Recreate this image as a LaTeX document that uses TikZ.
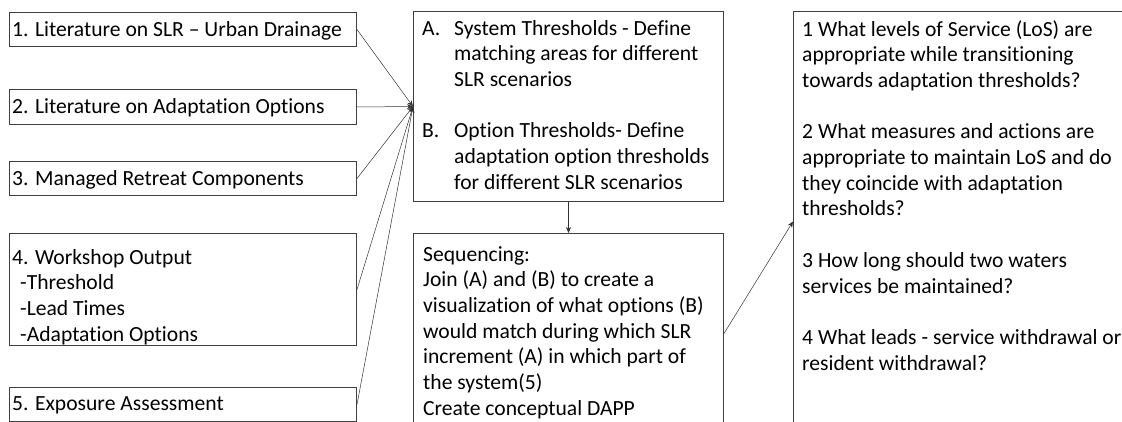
\documentclass[tikz,border=0pt]{standalone}
\usepackage{fontspec}
\setmainfont{Carlito}[Ligatures=NoCommon]
\usetikzlibrary{arrows.meta}
\begin{document}
\begin{tikzpicture}[x=1pt,y=-1pt,
  box/.style={draw=black!75, line width=1pt, anchor=north west, inner sep=0pt},
  lbl/.style={align=left, inner sep=0pt, font=\fontsize{21.6}{25.7}\selectfont},
  link/.style={draw=black!80, line width=0.5pt, -{Stealth[length=6pt,width=5pt]}}]
\useasboundingbox (0,0) rectangle (1122,422);
\clip (0,0) rectangle (1122,422);

% input boxes on the left
\node[box, minimum width=347pt, minimum height=34pt] (b1) at (9,12) {};
\node[box, minimum width=347pt, minimum height=35pt] (b2) at (9,89) {};
\node[box, minimum width=347pt, minimum height=34pt] (b3) at (9,161) {};
\node[box, minimum width=347pt, minimum height=112pt] (b4) at (9,233) {};
\node[box, minimum width=347pt, minimum height=34pt] (b5) at (9,387) {};

\node[lbl, anchor=west] (t1) at ([xshift=3pt,yshift=-1pt]b1.west) {1. Literature on SLR – Urban Drainage};
\node[lbl, anchor=west] (t2) at ([xshift=3pt,yshift=-1pt]b2.west) {2. Literature on Adaptation Options};
\node[lbl, anchor=west] (t3) at ([xshift=3pt,yshift=-1pt]b3.west) {3. Managed Retreat Components};
\node[lbl, anchor=north west] (t4) at (12,249) {4. Workshop Output\\
  \hspace*{8pt}-Threshold\\
  \hspace*{8pt}-Lead Times\\
  \hspace*{8pt}-Adaptation Options};
\node[lbl, anchor=west] (t5) at ([xshift=3pt,yshift=-1pt]b5.west) {5. Exposure Assessment};

% threshold box
\node[box, minimum width=310pt, minimum height=190pt] (ab) at (413,11) {};
\node[lbl, anchor=north west] (tab) at (422,20) {\makebox[32pt][l]{A.}System Thresholds - Define\\
  \hspace*{32pt}matching areas for different\\
  \hspace*{32pt}SLR scenarios\\[25.7pt]
  \makebox[32pt][l]{B.}Option Thresholds- Define\\
  \hspace*{32pt}adaptation option thresholds\\
  \hspace*{32pt}for different SLR scenarios};

% sequencing box
\node[box, minimum width=310pt, minimum height=200pt] (seq) at (413,233) {};
\node[lbl, anchor=north west] (tseq) at (423,246) {Sequencing:\\
  Join (A) and (B) to create a\\
  visualization of what options (B)\\
  would match during which SLR\\
  increment (A) in which part of\\
  the system(5)\\
  Create conceptual DAPP};

% question box
\node[box, minimum width=340pt, minimum height=420pt] (rq) at (793,11) {};
\node[lbl, anchor=north west] (trq) at (802,20) {1 What levels of Service (LoS) are\\
  appropriate while transitioning\\
  towards adaptation thresholds?\\[25.7pt]
  2 What measures and actions are\\
  appropriate to maintain LoS and do\\
  they coincide with adaptation\\
  thresholds?\\[25.7pt]
  3 How long should two waters\\
  services be maintained?\\[25.7pt]
  4 What leads - service withdrawal or\\
  resident withdrawal?};

% connectors
\foreach \b in {b1,b2,b3,b4,b5}
  \draw[link] (\b.east) -- (ab.west);
\draw[link] (ab.south) -- (seq.north);
\draw[link] (seq.east) -- (rq.west);
\end{tikzpicture}
\end{document}
